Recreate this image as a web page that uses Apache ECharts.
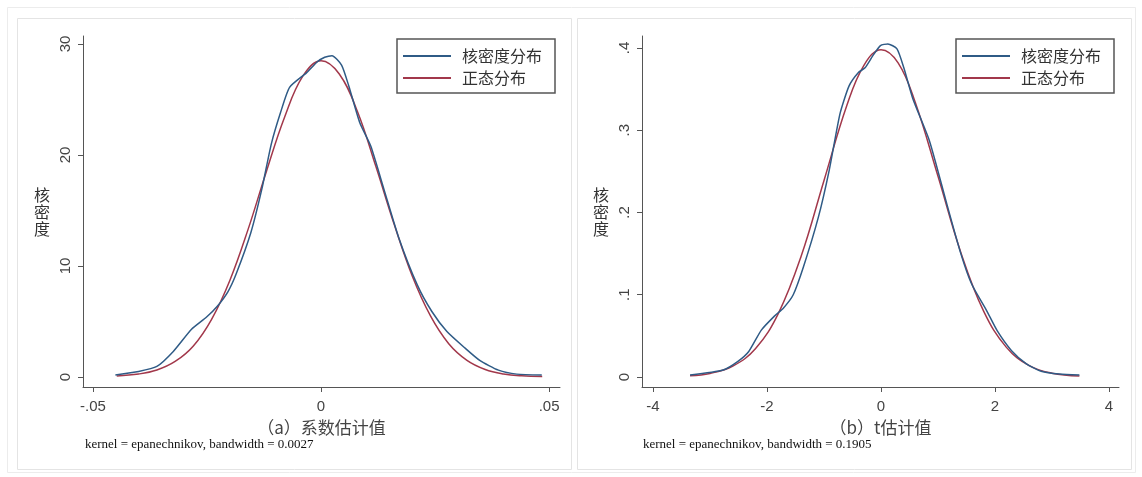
<!DOCTYPE html>
<html><head><meta charset="utf-8">
<script src="https://cdn.jsdelivr.net/npm/echarts@6/dist/echarts.min.js"></script>
<style>html,body{margin:0;padding:0;background:#fff}#c{width:1142px;height:477px}</style>
</head><body><div id="c"></div><script>
// ---- data ----
const legendNames = ['核密度分布', '正态分布'];
const panelTitles = ['（a）系数估计值', '（b）t估计值'];
const kernelNotes = ['kernel = epanechnikov, bandwidth = 0.0027', 'kernel = epanechnikov, bandwidth = 0.1905'];
const yAxisTitle = '核\n密\n度';

const coefTicksX = [-0.05, 0, 0.05];
const coefTicksY = [0, 10, 20, 30];
const tTicksX = [-4, -2, 0, 2, 4];
const tTicksY = [0, 0.1, 0.2, 0.3, 0.4];

// panel (a): kernel density of coefficient estimates
const coefKernelX = [-0.0451, -0.0400, -0.0360, -0.0324, -0.0284, -0.0251, -0.0227, -0.0204, -0.0186, -0.0154, -0.0130, -0.0109, -0.0089, -0.0069, -0.0032, -0.0008, 0.0008, 0.0024, 0.0045, 0.0061, 0.0085, 0.0109, 0.0138, 0.0170, 0.0211, 0.0243, 0.0276, 0.0316, 0.0348, 0.0389, 0.0429, 0.0484];
const coefKernelY = [0.18, 0.50, 0.95, 2.3, 4.3, 5.4, 6.4, 7.7, 9.3, 13.0, 16.9, 21.0, 23.8, 26.1, 27.4, 28.4, 28.8, 28.95, 28.1, 26.2, 22.9, 20.8, 16.9, 12.6, 8.3, 5.9, 4.1, 2.6, 1.5, 0.62, 0.26, 0.17];
// panel (a): normal curve
const coefNormalX = [-0.0448, -0.040, -0.036, -0.032, -0.028, -0.024, -0.020, -0.016, -0.012, -0.008, -0.004, 0.000, 0.004, 0.008, 0.012, 0.016, 0.020, 0.024, 0.028, 0.032, 0.036, 0.040, 0.044, 0.0485];
const coefNormalY = [0.10, 0.27, 0.63, 1.4, 2.8, 5.2, 8.7, 13.3, 18.5, 23.4, 27.1, 28.5, 27.3, 23.9, 19.0, 13.8, 9.1, 5.5, 3.0, 1.5, 0.68, 0.28, 0.11, 0.05];

// panel (b): kernel density of t estimates
const tKernelX = [-3.35, -2.77, -2.51, -2.32, -2.10, -1.87, -1.71, -1.54, -1.36, -1.10, -0.91, -0.72, -0.56, -0.40, -0.28, -0.14, -0.01, 0.12, 0.28, 0.40, 0.56, 0.85, 1.14, 1.40, 1.59, 1.85, 2.04, 2.29, 2.55, 2.81, 3.13, 3.48];
const tKernelY = [0.0024, 0.0085, 0.019, 0.031, 0.057, 0.074, 0.084, 0.100, 0.134, 0.194, 0.251, 0.320, 0.354, 0.370, 0.376, 0.391, 0.403, 0.405, 0.399, 0.376, 0.338, 0.287, 0.214, 0.150, 0.113, 0.081, 0.056, 0.032, 0.016, 0.0070, 0.0035, 0.0023];
// panel (b): normal curve
const tNormalX = [-3.35, -3.0, -2.6, -2.2, -1.8, -1.4, -1.0, -0.6, -0.3, 0.0, 0.3, 0.6, 1.0, 1.4, 1.8, 2.2, 2.6, 3.0, 3.48];
const tNormalY = [0.0015, 0.0043, 0.0132, 0.0346, 0.0774, 0.147, 0.239, 0.330, 0.379, 0.398, 0.382, 0.334, 0.244, 0.1515, 0.080, 0.036, 0.0139, 0.0046, 0.0012];

// ---- chart ----
const zip = (xs, ys) => xs.map((x, i) => [x, ys[i]]);
const fmt = v => {
  if (Math.abs(v) < 1e-12) return '0';
  const s = String(+(+v).toFixed(4));
  return s.replace(/^(-?)0\./, '$1.');
};
const BLUE = '#2f5b86', RED = '#a2384b', AXIS = '#555';
const axisLine = { show: true, onZero: false, lineStyle: { color: AXIS, width: 1 } };

function xAx(gi, min, max, ticks, name) {
  return {
    gridIndex: gi, type: 'value', min, max,
    axisLine, splitLine: { show: false },
    axisTick: { show: true, length: 5, customValues: ticks, lineStyle: { color: AXIS } },
    axisLabel: { customValues: ticks, formatter: fmt, fontSize: 15, color: '#444', margin: 12, fontFamily: 'Liberation Sans' },
    name, nameLocation: 'middle', nameGap: 30,
    nameTextStyle: { fontSize: 17, color: '#444', fontFamily: 'Noto Sans CJK SC' }
  };
}
function yAx(gi, min, max, ticks) {
  return {
    gridIndex: gi, type: 'value', min, max,
    axisLine, splitLine: { show: false },
    axisTick: { show: true, length: 5, customValues: ticks, lineStyle: { color: AXIS } },
    axisLabel: { customValues: ticks, formatter: fmt, fontSize: 15, color: '#444', margin: 10, rotate: 90, fontFamily: 'Liberation Sans' },
    name: yAxisTitle, nameLocation: 'middle', nameRotate: 0, nameGap: 33,
    nameTextStyle: { fontSize: 16, color: '#333', lineHeight: 17, fontFamily: 'Noto Sans CJK SC' }
  };
}
function legend(left) {
  return {
    data: legendNames, left, top: 39, orient: 'vertical',
    icon: 'rect', itemWidth: 48, itemHeight: 2, itemGap: 6,
    borderColor: '#555', borderWidth: 1.5, padding: [9, 13, 7, 6],
    textStyle: { fontSize: 16, color: '#333', lineHeight: 16, padding: [0, 0, 0, 6], fontFamily: 'Noto Sans CJK SC' },
    selectedMode: false
  };
}
function line(name, data, color, xi, smooth) {
  return { type: 'line', name, data, xAxisIndex: xi, yAxisIndex: xi, showSymbol: false, smooth,
    lineStyle: { color, width: 1.5 }, itemStyle: { color }, z: name === legendNames[0] ? 3 : 2 };
}

const chart = echarts.init(document.getElementById('c'), null, { renderer: 'canvas' });
chart.setOption({
  backgroundColor: '#fff',
  animation: false,
  grid: [
    { left: 83, top: 36, width: 477, height: 351 },
    { left: 642, top: 36, width: 477, height: 351 }
  ],
  xAxis: [xAx(0, -0.0522, 0.0524, coefTicksX, panelTitles[0]), xAx(1, -4.193, 4.175, tTicksX, panelTitles[1])],
  yAxis: [yAx(0, -0.9, 30.72, coefTicksY), yAx(1, -0.0122, 0.4146, tTicksY)],
  legend: [legend(397), legend(956)],
  series: [
    line(legendNames[0], zip(coefKernelX, coefKernelY), BLUE, 0, 0.2),
    line(legendNames[1], zip(coefNormalX, coefNormalY), RED, 0, 0.4),
    line(legendNames[0], zip(tKernelX, tKernelY), BLUE, 1, 0.2),
    line(legendNames[1], zip(tNormalX, tNormalY), RED, 1, 0.4)
  ],
  graphic: [
    { type: 'rect', shape: { x: 7.5, y: 7.5, width: 1128, height: 465 }, style: { fill: 'none', stroke: '#ececec', lineWidth: 1 }, z: -10 },
    { type: 'rect', shape: { x: 17.5, y: 18.5, width: 554, height: 451 }, style: { fill: 'none', stroke: '#e4e4e4', lineWidth: 1 }, z: -9 },
    { type: 'rect', shape: { x: 577.5, y: 18.5, width: 554, height: 451 }, style: { fill: 'none', stroke: '#e4e4e4', lineWidth: 1 }, z: -9 },
    { type: 'text', left: 85, top: 438, style: { text: kernelNotes[0], font: '13px "Liberation Serif"', fill: '#111' } },
    { type: 'text', left: 643, top: 438, style: { text: kernelNotes[1], font: '13px "Liberation Serif"', fill: '#111' } }
  ]
});
</script></body></html>
